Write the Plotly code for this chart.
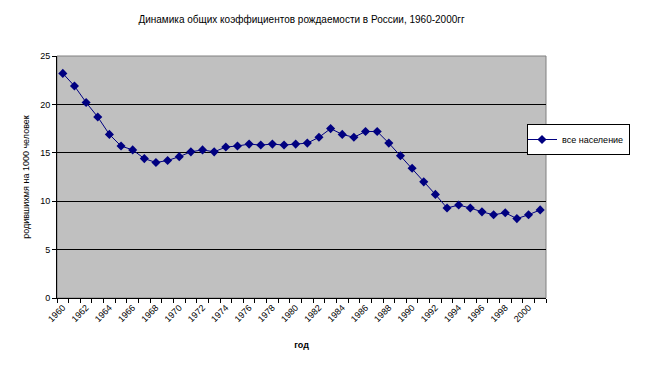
import plotly.graph_objects as go

years = list(range(1960, 2002))
birth_rate = [23.2, 21.9, 20.2, 18.7, 16.9, 15.7, 15.3, 14.4, 14.0, 14.2,
              14.6, 15.1, 15.3, 15.1, 15.6, 15.7, 15.9, 15.8, 15.9, 15.8,
              15.9, 16.0, 16.6, 17.5, 16.9, 16.6, 17.2, 17.2, 16.0, 14.7,
              13.4, 12.0, 10.7, 9.3, 9.6, 9.3, 8.9, 8.6, 8.8, 8.2,
              8.6, 9.1]
tick_years = list(range(1960, 2001, 2))
tick_labels = [str(y) for y in tick_years]
series_name = "все население"

fig = go.Figure()
fig.add_trace(go.Scatter(
    x=years, y=birth_rate, mode="lines+markers", name=series_name,
    line=dict(color="#000080", width=1),
    marker=dict(symbol="diamond", size=7, color="#000080"),
))

# page body has an 8px margin; compensate so the plot lands where the reference has it
font_family = "Liberation Sans, Arial, sans-serif"
fig.update_layout(
    width=672, height=369,
    margin=dict(l=49, r=134, t=48, b=79),
    paper_bgcolor="white", plot_bgcolor="#C0C0C0",
    font=dict(family=font_family, size=9, color="black"),
    title=dict(text="Динамика общих коэффициентов рождаемости в России, 1960-2000гг",
               x=0.5, xref="paper", y=1 - 11/369, yanchor="middle",
               font=dict(size=10, color="black")),
    showlegend=True,
    legend=dict(x=(519 - 49) / 489, y=1 - (116 - 48) / 242, xref="paper", yref="paper",
                xanchor="left", yanchor="top",
                bgcolor="white", bordercolor="black", borderwidth=1,
                font=dict(size=9), itemwidth=30, tracegroupgap=0,
                indentation=-6),
    shapes=[dict(type="rect", xref="paper", yref="paper", x0=0, x1=1, y0=0, y1=1,
                 line=dict(color="#808080", width=1), layer="below")],
)
fig.update_xaxes(
    range=[1959.5, 2001.5], tickmode="array", tickvals=tick_years, ticktext=tick_labels,
    tickangle=-45, ticks="", ticklen=0, showgrid=False, zeroline=False,
    showline=True, linecolor="black", linewidth=1, automargin=False,
    minor=dict(tickmode="linear", tick0=1959.5, dtick=1, ticks="outside",
               ticklen=4, tickcolor="black", showgrid=False),
    tickfont=dict(size=9),
    title=dict(text="<b>год</b>", font=dict(size=9), standoff=18),
)
fig.update_yaxes(
    range=[0, 25], tickvals=[0, 5, 10, 15, 20, 25], ticks="outside", ticklen=4,
    tickcolor="black", showgrid=True, gridcolor="black", gridwidth=1,
    zeroline=False, showline=True, linecolor="black", linewidth=1, automargin=False,
    tickfont=dict(size=9),
    title=dict(text="родившихмя на 1000 человек", font=dict(size=9), standoff=9),
)
fig.write_html("out.html")
